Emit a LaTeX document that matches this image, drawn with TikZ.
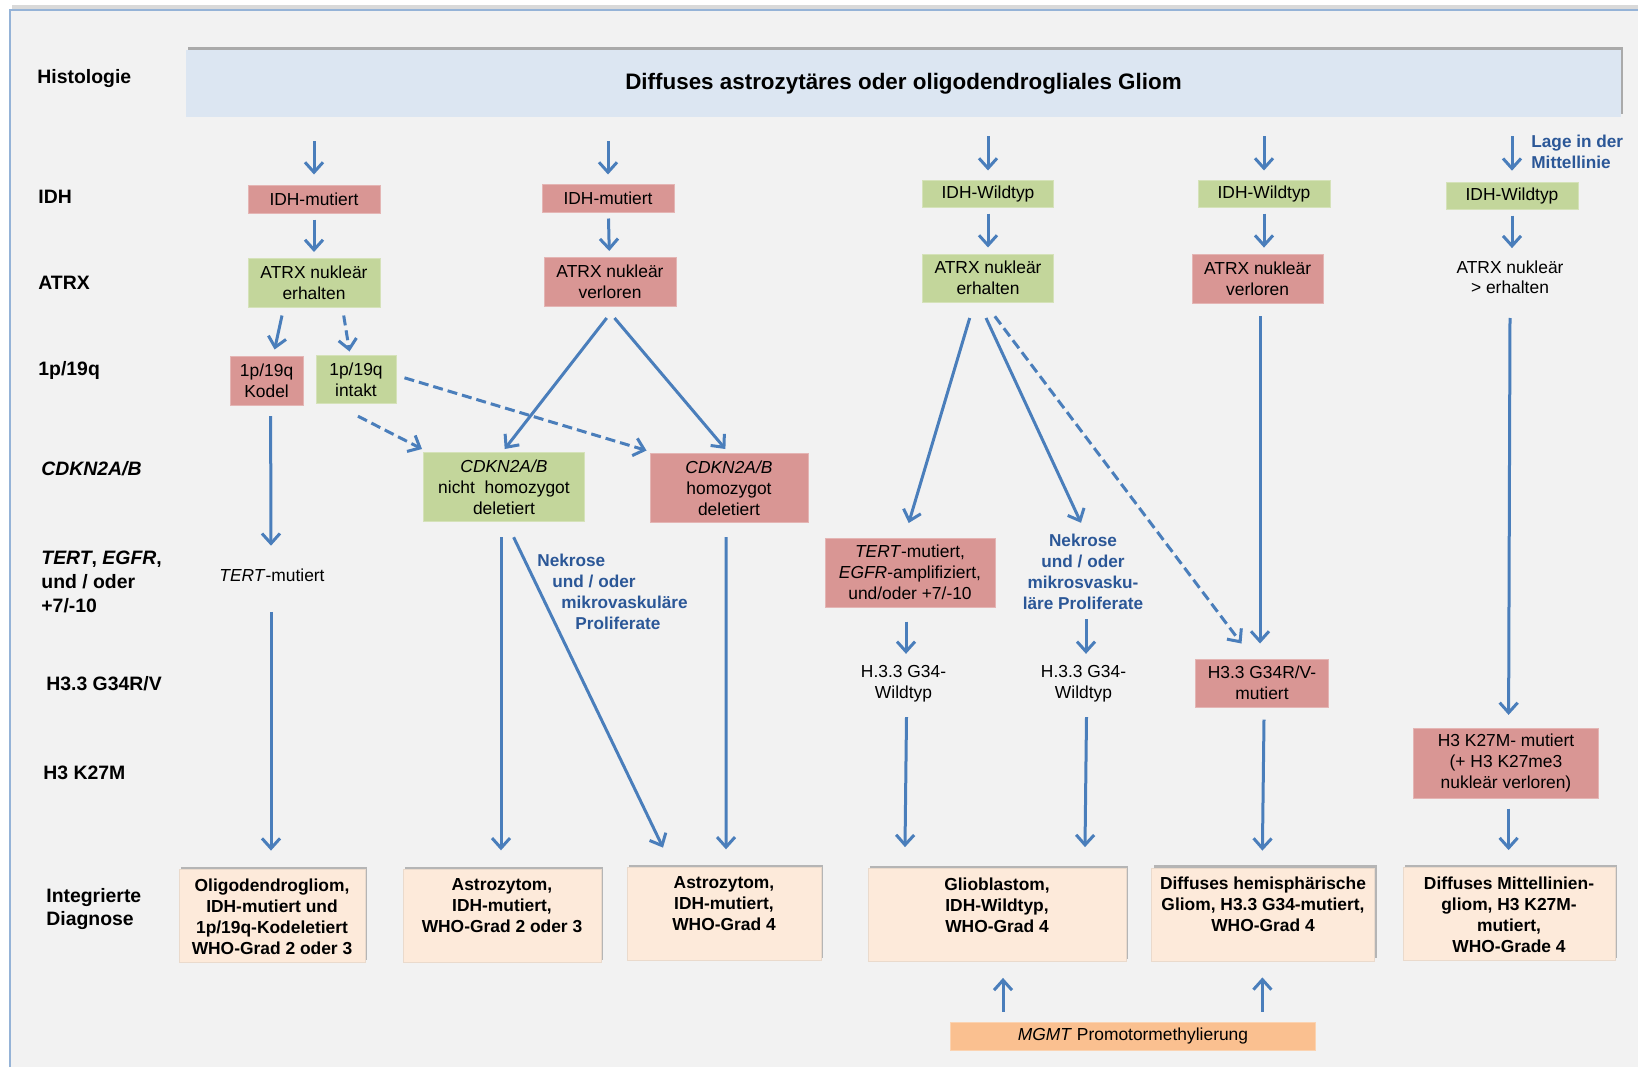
\documentclass[tikz,border=0pt]{standalone}
\usepackage{fontspec}
\setmainfont{Liberation Sans}
\usetikzlibrary{arrows.meta,positioning,shadows}

\definecolor{bggray}{HTML}{F2F2F2}
\definecolor{frameblue}{HTML}{95B3D7}
\definecolor{hdrblue}{HTML}{DCE6F2}
\definecolor{boxred}{HTML}{D99694}
\definecolor{boxgreen}{HTML}{C3D69B}
\definecolor{diagfill}{HTML}{FDEADA}
\definecolor{mgmtfill}{HTML}{FAC090}
\definecolor{arrblue}{HTML}{4A7EBB}
\definecolor{noteblue}{HTML}{2B5797}

\tikzset{
  rowlabel/.style={anchor=west, align=left, inner sep=0pt, font=\fontsize{9.7}{11.8}\selectfont\bfseries},
  markbox/.style={rectangle, inner sep=0pt, align=center, font=\fontsize{8.7}{10.4}\selectfont},
  redbox/.style={markbox, fill=boxred, draw=boxred!70!white, line width=0.5pt},
  greenbox/.style={markbox, fill=boxgreen, draw=boxgreen!70!white, line width=0.5pt},
  bluenote/.style={align=center, inner sep=0pt, text=noteblue, font=\fontsize{8.6}{10.5}\selectfont\bfseries},
  hdrbox/.style={rectangle, fill=hdrblue, minimum width=717.5pt, minimum height=33.5pt,
    font=\fontsize{11.2}{13}\selectfont\bfseries,
    drop shadow={shadow xshift=1.2pt, shadow yshift=1.6pt, fill=black!40, opacity=0.8}},
  diagbox/.style={rectangle, fill=diagfill, draw=diagfill!85!gray, line width=0.4pt, minimum height=46.5pt,
    drop shadow={shadow xshift=1.1pt, shadow yshift=1.3pt, fill=black!35, opacity=0.8}},
  diagtext/.style={align=center, inner sep=0pt, font=\fontsize{8.7}{10.5}\selectfont\bfseries},
  arr/.style={draw=arrblue, line width=1.5pt, -{Straight Barb[length=5pt,width=9pt]}},
  darr/.style={arr, dash pattern=on 5pt off 2.5pt},
}

\begin{document}
\begin{tikzpicture}[x=0.5pt, y=-0.5pt]
  \useasboundingbox (0,0) rectangle (1638,1067);
  % panel and frame
  \fill[white] (0,0) rectangle (1638,1067);
  \fill[black!15] (12,5) rectangle (1638,10);
  \fill[bggray] (10,10) rectangle (1638,1067);
  \draw[frameblue, line width=1pt] (10,1067) -- (10,10) -- (1638,10);

  % row labels
  \node[rowlabel] (lHist) at (37,79) {Histologie};
  \node[rowlabel] (lIdh) at (38,197) {IDH};
  \node[rowlabel] (lAtrx) at (38,283) {ATRX};
  \node[rowlabel] (lPq) at (38,370) {1p/19q};
  \node[rowlabel] (lCdkn) at (41,469) {\textit{CDKN2A/B}};
  \node[rowlabel] (lTert) at (41,582) {\textit{TERT}, \textit{EGFR},\\und / oder\\+7/-10};
  \node[rowlabel] (lH33) at (46,684) {H3.3 G34R/V};
  \node[rowlabel] (lK27) at (43,773) {H3 K27M};
  \node[rowlabel] (lDiag) at (46,909) {Integrierte\\Diagnose};

  % histology
  \node[hdrbox] (hdr) at (903.5,83.5) {Diffuses astrozytäres oder oligodendrogliales Gliom};

  % IDH
  \node[redbox, minimum width=66pt, minimum height=14pt] (idhA) at (314,199) {IDH-mutiert};
  \node[redbox, minimum width=66pt, minimum height=14pt] (idhB) at (608,198) {IDH-mutiert};
  \node[greenbox, minimum width=65.5pt, minimum height=13.5pt] (idhC) at (988,193.5) {IDH-Wildtyp};
  \node[greenbox, minimum width=66pt, minimum height=13.5pt] (idhD) at (1264,193.5) {IDH-Wildtyp};
  \node[greenbox, minimum width=66pt, minimum height=13.5pt] (idhE) at (1512,195.7) {IDH-Wildtyp};
  \node[bluenote, anchor=west, align=left] (lage) at (1531,151.5) {Lage in der\\Mittellinie};

  % ATRX
  \node[greenbox, minimum width=66pt, minimum height=24.5pt] (atrxA) at (314,283) {ATRX nukleär\\erhalten};
  \node[redbox, minimum width=66pt, minimum height=24.5pt] (atrxB) at (610,282) {ATRX nukleär\\verloren};
  \node[greenbox, minimum width=65.5pt, minimum height=24pt] (atrxC) at (988,278) {ATRX nukleär\\erhalten};
  \node[redbox, minimum width=65.5pt, minimum height=24.5pt] (atrxD) at (1257.6,278.6) {ATRX nukleär\\verloren};
  \node[markbox] (atrxE) at (1510,277.3) {ATRX nukleär\\> erhalten};

  % 1p/19q
  \node[redbox, minimum width=36.5pt, minimum height=24.5pt] (kodel) at (266.6,381) {1p/19q\\Kodel};
  \node[greenbox, minimum width=40pt, minimum height=24pt] (intakt) at (356,379.5) {1p/19q\\intakt};

  % CDKN2A/B
  \node[greenbox, minimum width=80.5pt, minimum height=34.5pt] (cdknA) at (504,487) {\textit{CDKN2A/B}\\nicht\ \ homozygot\\deletiert};
  \node[redbox, minimum width=79pt, minimum height=34.5pt] (cdknB) at (729,488) {\textit{CDKN2A/B}\\homozygot\\deletiert};

  % TERT, EGFR, +7/-10
  \node[markbox] (tertA) at (272,575) {\textit{TERT}-mutiert};
  \node[redbox, minimum width=85pt, minimum height=34.5pt] (tertB) at (910,572.5) {\textit{TERT}-mutiert,\\\textit{EGFR}-amplifiziert,\\und/oder +7/-10};
  \node[bluenote, anchor=north west, align=left] (necA) at (537,553.5) {Nekrose\\\hspace*{7.5pt}und / oder\\\hspace*{12pt}mikrovaskuläre\\\hspace*{19pt}Proliferate};
  \node[bluenote] (necB) at (1083,572) {Nekrose\\und / oder\\mikrosvasku-\\läre Proliferate};

  % H3.3 G34
  \node[markbox] (h33C) at (903.5,684) {H.3.3 G34-\\Wildtyp};
  \node[markbox] (h33D) at (1083.5,684) {H.3.3 G34-\\Wildtyp};
  \node[redbox, minimum width=66.5pt, minimum height=24pt] (h33E) at (1262,683) {H3.3 G34R/V-\\mutiert};

  % H3 K27M
  \node[redbox, minimum width=92.5pt, minimum height=35pt] (k27) at (1506,763) {H3 K27M- mutiert\\(+ H3 K27me3\\nukleär verloren)};

  % integrated diagnosis
  \node[diagbox, minimum width=93pt] (dA) at (272,916) {};
  \node[diagtext, below=4.6pt of dA.north] (tA) {Oligodendrogliom,\\IDH-mutiert und\\1p/19q-Kodeletiert\\WHO-Grad 2 oder 3};
  \node[diagbox, minimum width=99pt] (dB) at (502,916) {};
  \node[diagtext, below=4.6pt of dB.north] (tB) {Astrozytom,\\IDH-mutiert,\\WHO-Grad 2 oder 3};
  \node[diagbox, minimum width=97pt] (dC) at (724,914) {};
  \node[diagtext, below=4.6pt of dC.north] (tC) {Astrozytom,\\IDH-mutiert,\\WHO-Grad 4};
  \node[diagbox, minimum width=129pt] (dD) at (997,915) {};
  \node[diagtext, below=4.6pt of dD.north] (tD) {Glioblastom,\\IDH-Wildtyp,\\WHO-Grad 4};
  \node[diagbox, minimum width=111.5pt] (dE) at (1263,914.5) {};
  \node[diagtext, below=4.6pt of dE.north] (tE) {Diffuses hemisphärische\\Gliom, H3.3 G34-mutiert,\\WHO-Grad 4};
  \node[diagbox, minimum width=106pt] (dF) at (1509,914) {};
  \node[diagtext, below=4.6pt of dF.north] (tF) {Diffuses Mittellinien-\\gliom, H3 K27M-\\mutiert,\\WHO-Grade 4};

  % MGMT
  \node[markbox, fill=mgmtfill, draw=mgmtfill!70!white, line width=0.5pt, minimum width=182.5pt, minimum height=14pt] (mgmt) at (1133,1036.4) {\textit{MGMT} Promotormethylierung};

  % arrows from histology
  \draw[arr, shorten <=12pt, shorten >=5pt] (hdr.south -| idhA.north) -- (idhA.north);
  \draw[arr, shorten <=12pt, shorten >=4.5pt] (hdr.south -| idhB.north) -- (idhB.north);
  \draw[arr, shorten <=9.5pt, shorten >=4.5pt] (hdr.south -| idhC.north) -- (idhC.north);
  \draw[arr, shorten <=9.5pt, shorten >=4.5pt] (hdr.south -| idhD.north) -- (idhD.north);
  \draw[arr, shorten <=9.5pt, shorten >=5.5pt] (hdr.south -| idhE.north) -- (idhE.north);

  % IDH to ATRX
  \draw[arr, shorten <=3pt, shorten >=3pt] (idhA) -- (atrxA);
  \draw[arr, shorten <=3pt, shorten >=3pt] (idhB) -- (atrxB);
  \draw[arr, shorten <=3pt, shorten >=3pt] (idhC) -- (atrxC);
  \draw[arr, shorten <=3pt, shorten >=3pt] (idhD.south) -- (idhD.south |- atrxD.north);
  \draw[arr, shorten <=3pt, shorten >=6pt] (idhE.south) -- (idhE.south |- atrxE.north);

  % ATRX to 1p/19q and CDKN2A/B
  \draw[arr] ([shift={(-32,7.5)}]atrxA.south) -- ([shift={(8,-6.5)}]kodel.north);
  \draw[darr] ([shift={(29.7,7.5)}]atrxA.south) -- ([shift={(-6.5,-3.5)}]intakt.north);
  \draw[arr] ([shift={(-3.3,11)}]atrxB.south) -- ([shift={(0.7,-3)}]cdknA.north);
  \draw[arr] ([shift={(4.5,11)}]atrxB.south) -- ([shift={(-3.6,-4)}]cdknB.north);
  \draw[darr] ([shift={(2,12.2)}]intakt.south) -- ([shift={(-1,-3)}]cdknA.north west);
  \draw[darr] ([shift={(8,-1.7)}]intakt.east) -- ([shift={(-3,-2.5)}]cdknB.north west);

  % towards the diagnoses, IDH-mutant
  \draw[arr] ([shift={(4,10)}]kodel.south) -- ([shift={(-1,-22.5)}]tertA.north);
  \draw[arr] ([shift={(-1,30)}]tertA.south) -- ([shift={(-1,-18.5)}]dA.north);
  \draw[arr] ([shift={(-3,15.2)}]cdknA.south) -- ([shift={(-1,-18.8)}]dB.north);
  \draw[arr] ([shift={(9.6,15.2)}]cdknA.south) -- ([shift={(-61,-19.5)}]dC.north);
  \draw[arr] ([shift={(-2.8,14.2)}]cdknB.south) -- ([shift={(2,-17.8)}]dC.north);

  % IDH-wildtype branches
  \draw[arr] ([shift={(-18.3,15.5)}]atrxC.south) -- ([shift={(-1.3,-14.5)}]tertB.north);
  \draw[arr] ([shift={(-2,15.5)}]atrxC.south) -- ([shift={(-2,-11)}]necB.north);
  \draw[darr] ([shift={(6.8,13.8)}]atrxC.south) -- ([shift={(-20.5,-15)}]h33E.north);
  \draw[arr] ([shift={(-4,14)}]tertB.south) -- ([shift={(2.5,-11.5)}]h33C.north);
  \draw[arr] ([shift={(3,9.2)}]necB.south) -- ([shift={(2.5,-11.5)}]h33D.north);
  \draw[arr] ([shift={(3,14.4)}]h33C.south) -- ([shift={(-92,-21)}]dD.north);
  \draw[arr] ([shift={(3,14.4)}]h33D.south) -- ([shift={(88,-21)}]dD.north);
  \draw[arr] ([shift={(2.4,12.8)}]atrxD.south) -- ([shift={(-2,-15)}]h33E.north);
  \draw[arr] ([shift={(2,12)}]h33E.south) -- ([shift={(-0.6,-17)}]dE.north);

  % midline
  \draw[arr] ([shift={(0,23.5)}]atrxE.south) -- ([shift={(2.6,-12.6)}]k27.north);
  \draw[arr] ([shift={(2.6,10)}]k27.south) -- ([shift={(-0.4,-17)}]dF.north);

  % MGMT
  \draw[arr] ([shift={(-130,-10.4)}]mgmt.north) -- ([shift={(6,16)}]dD.south);
  \draw[arr] ([shift={(129.4,-10.4)}]mgmt.north) -- ([shift={(-0.6,16)}]dE.south);
\end{tikzpicture}
\end{document}
